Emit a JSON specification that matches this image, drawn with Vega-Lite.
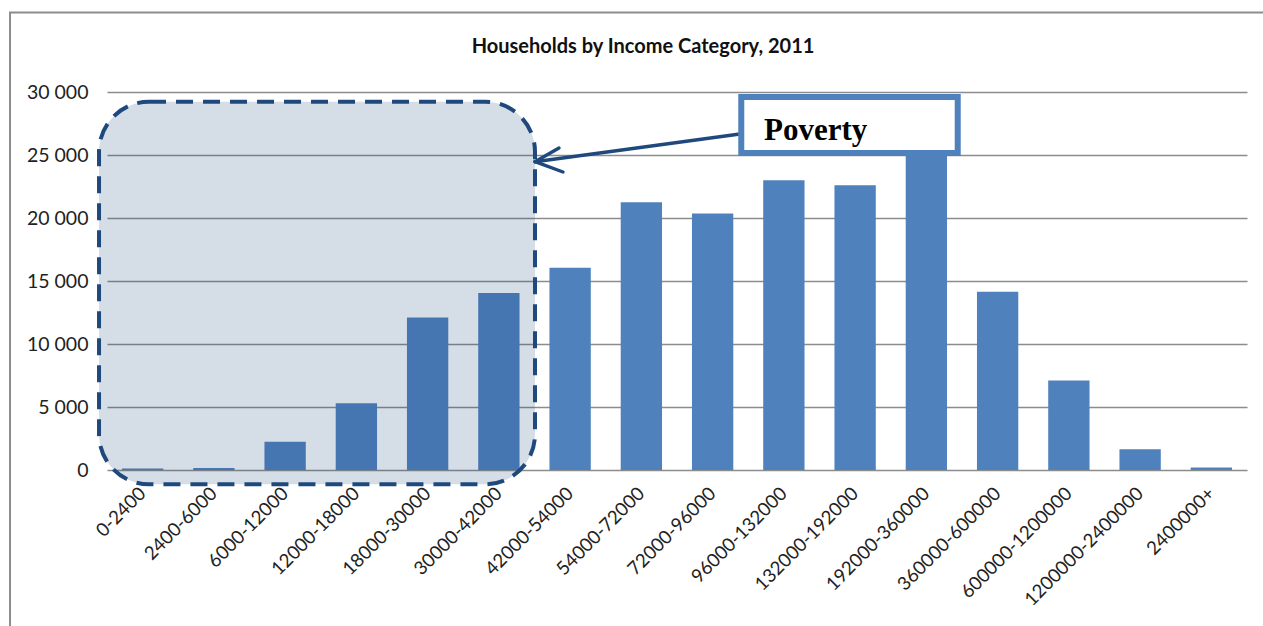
{
  "$schema": "https://vega.github.io/schema/vega-lite/v6.json",
  "width": 1140,
  "height": 378,
  "autosize": {"type": "none"},
  "padding": {"left": 107, "top": 92, "right": 16, "bottom": 156},
  "background": "white",
  "config": {"view": {"stroke": null}, "font": "Lato"},
  "datasets": {
    "bars": [
      {"category": "0-2400", "households": 120},
      {"category": "2400-6000", "households": 150},
      {"category": "6000-12000", "households": 2250},
      {"category": "12000-18000", "households": 5300},
      {"category": "18000-30000", "households": 12100},
      {"category": "30000-42000", "households": 14050},
      {"category": "42000-54000", "households": 16050},
      {"category": "54000-72000", "households": 21250},
      {"category": "72000-96000", "households": 20350},
      {"category": "96000-132000", "households": 23000},
      {"category": "132000-192000", "households": 22600},
      {"category": "192000-360000", "households": 27500},
      {"category": "360000-600000", "households": 14150},
      {"category": "600000-1200000", "households": 7100},
      {"category": "1200000-2400000", "households": 1650},
      {"category": "2400000+", "households": 200}
    ],
    "frame": [{"x0": -1.361, "x1": 17, "y0": 36310, "y1": -15000}],
    "region": [{"x0": -0.112, "x1": 6.007, "y0": 29230, "y1": -1137}],
    "arrow": [
      {"x0": 8.884, "y0": 26667, "x1": 6.007, "y1": 24468},
      {"x0": 6.007, "y0": 24468, "x1": 6.344, "y1": 25556},
      {"x0": 6.007, "y0": 24468, "x1": 6.4, "y1": 23651}
    ],
    "box": [{"x0": 8.902, "x1": 11.94, "y0": 29603, "y1": 25159}],
    "label": [{"x": 9.221, "y": 26190, "text": "Poverty"}],
    "title": [{"x": 7.523, "y": 33570, "text": "Households by Income Category, 2011"}]
  },
  "layer": [
    {
      "data": {"name": "bars"},
      "mark": {"type": "bar", "color": "#4F81BD"},
      "encoding": {
        "x": {
          "field": "category",
          "type": "nominal",
          "sort": null,
          "scale": {"paddingInner": 0.42, "paddingOuter": 0.21},
          "axis": {
            "title": null,
            "labelAngle": -45,
            "labelAlign": "right",
            "labelBaseline": "middle",
            "labelPadding": 20,
            "labelOverlap": false,
            "ticks": false,
            "domain": false,
            "grid": false,
            "labelFont": "Lato",
            "labelFontSize": 18.7,
            "labelColor": "#222222"
          }
        },
        "y": {
          "field": "households",
          "type": "quantitative",
          "scale": {"domain": [0, 30000], "nice": false},
          "axis": {
            "title": null,
            "values": [0, 5000, 10000, 15000, 20000, 25000, 30000],
            "labelExpr": "replace(format(datum.value, ','), ',', ' ')",
            "ticks": false,
            "domain": false,
            "labelPadding": 19,
            "labelFont": "Lato",
            "labelFontSize": 19.5,
            "labelColor": "#222222",
            "grid": true,
            "gridColor": "#8c8c8c",
            "gridWidth": 1.3
          }
        }
      }
    },
    {
      "layer": [
        {
          "data": {"name": "frame"},
          "mark": {"type": "rect", "filled": false, "stroke": "#8c8c8c", "strokeWidth": 2},
          "encoding": {
            "x": {"field": "x0", "type": "quantitative", "scale": {"domain": [0, 16], "nice": false, "zero": false}, "axis": null},
            "x2": {"field": "x1"},
            "y": {"field": "y0", "type": "quantitative", "scale": {"domain": [0, 30000], "nice": false}, "axis": null},
            "y2": {"field": "y1"}
          }
        },
        {
          "data": {"name": "title"},
          "mark": {"type": "text", "font": "Lato", "fontSize": 20, "fontWeight": "bold", "color": "#111111", "align": "center", "baseline": "middle"},
          "encoding": {
            "x": {"field": "x", "type": "quantitative", "scale": {"domain": [0, 16], "nice": false, "zero": false}, "axis": null},
            "y": {"field": "y", "type": "quantitative", "scale": {"domain": [0, 30000], "nice": false}, "axis": null},
            "text": {"field": "text"}
          }
        },
        {
          "data": {"name": "region"},
          "mark": {"type": "rect", "fill": "#1F497D", "fillOpacity": 0.19, "stroke": "#1F497D", "strokeWidth": 4, "strokeDash": [17, 10], "cornerRadius": 50},
          "encoding": {
            "x": {"field": "x0", "type": "quantitative", "scale": {"domain": [0, 16], "nice": false, "zero": false}, "axis": null},
            "x2": {"field": "x1"},
            "y": {"field": "y0", "type": "quantitative", "scale": {"domain": [0, 30000], "nice": false}, "axis": null},
            "y2": {"field": "y1"}
          }
        },
        {
          "data": {"name": "arrow"},
          "mark": {"type": "rule", "color": "#1F497D", "strokeWidth": 3.4, "strokeCap": "round"},
          "encoding": {
            "x": {"field": "x0", "type": "quantitative", "scale": {"domain": [0, 16], "nice": false, "zero": false}, "axis": null},
            "x2": {"field": "x1"},
            "y": {"field": "y0", "type": "quantitative", "scale": {"domain": [0, 30000], "nice": false}, "axis": null},
            "y2": {"field": "y1"}
          }
        },
        {
          "data": {"name": "box"},
          "mark": {"type": "rect", "fill": "white", "stroke": "#4F81BD", "strokeWidth": 6},
          "encoding": {
            "x": {"field": "x0", "type": "quantitative", "scale": {"domain": [0, 16], "nice": false, "zero": false}, "axis": null},
            "x2": {"field": "x1"},
            "y": {"field": "y0", "type": "quantitative", "scale": {"domain": [0, 30000], "nice": false}, "axis": null},
            "y2": {"field": "y1"}
          }
        },
        {
          "data": {"name": "label"},
          "mark": {"type": "text", "font": "Liberation Serif", "fontSize": 31, "fontWeight": "bold", "color": "black", "align": "left", "baseline": "alphabetic"},
          "encoding": {
            "x": {"field": "x", "type": "quantitative", "scale": {"domain": [0, 16], "nice": false, "zero": false}, "axis": null},
            "y": {"field": "y", "type": "quantitative", "scale": {"domain": [0, 30000], "nice": false}, "axis": null},
            "text": {"field": "text"}
          }
        }
      ]
    }
  ],
  "resolve": {"scale": {"x": "independent"}, "axis": {"y": "independent"}}
}
